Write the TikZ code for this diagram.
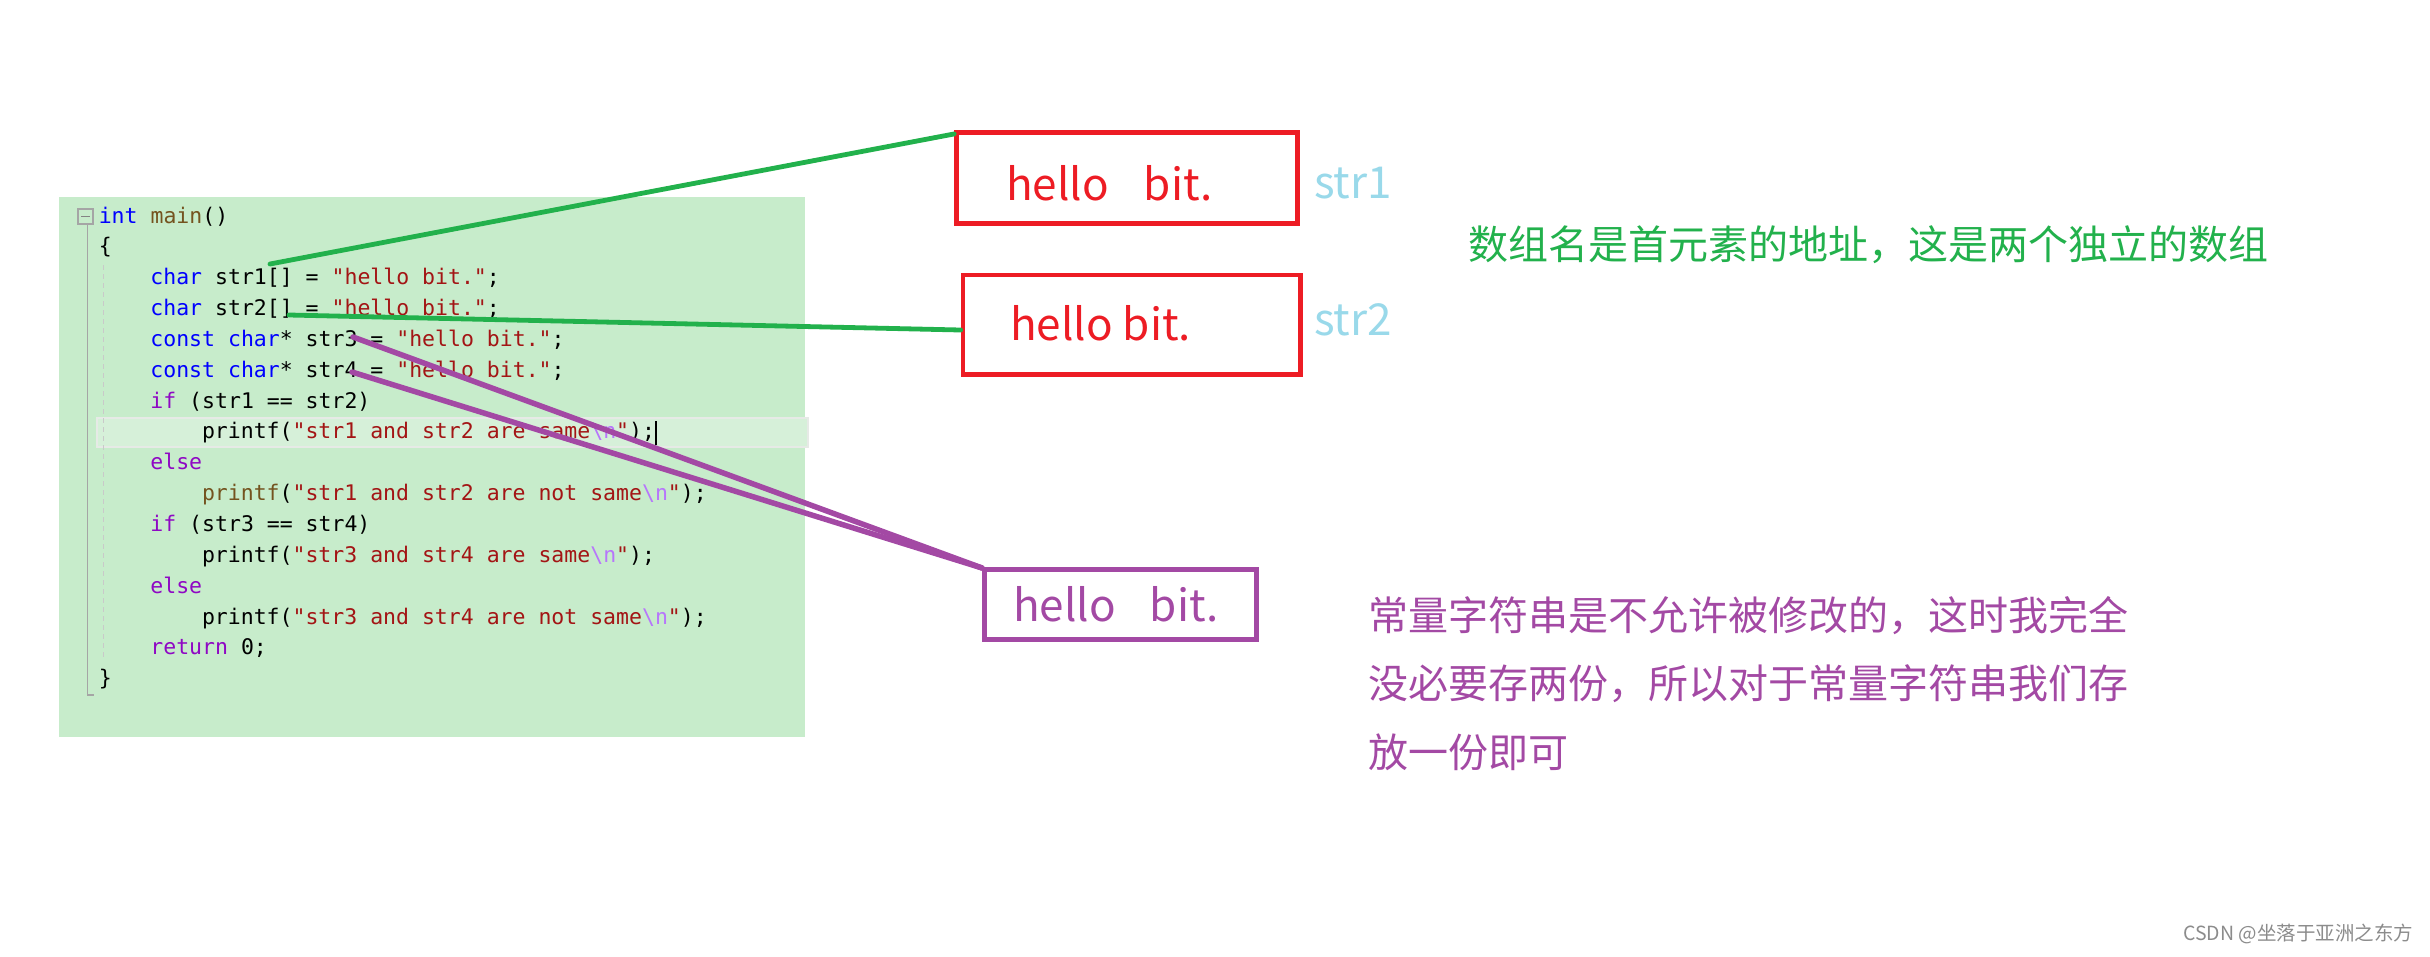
\documentclass[tikz,border=0pt]{standalone}
\usepackage{fontspec}
\setmonofont{DejaVu Sans Mono}
\newfontfamily\cjk{Noto Sans CJK SC}
\definecolor{codebg}{RGB}{199,236,203}
\definecolor{curline}{RGB}{214,240,217}
\definecolor{curborder}{RGB}{230,234,230}
\definecolor{kwblue}{RGB}{0,0,255}
\definecolor{ctpurple}{RGB}{143,8,196}
\definecolor{fnbrown}{RGB}{116,83,31}
\definecolor{strred}{RGB}{163,21,21}
\definecolor{escviolet}{RGB}{183,118,251}
\definecolor{pred}{RGB}{237,28,36}
\definecolor{pgreen}{RGB}{34,177,76}
\definecolor{ppurple}{RGB}{163,73,164}
\definecolor{pblue}{RGB}{153,217,234}
\definecolor{wmgray}{RGB}{140,140,140}
\definecolor{guidegray}{RGB}{165,165,165}
\newcommand{\kw}[1]{\textcolor{kwblue}{#1}}
\newcommand{\ct}[1]{\textcolor{ctpurple}{#1}}
\newcommand{\fn}[1]{\textcolor{fnbrown}{#1}}
\newcommand{\st}[1]{\textcolor{strred}{#1}}
\newcommand{\es}{\textcolor{escviolet}{\textbackslash n}}
\tikzset{
  code/.style={anchor=base west, inner sep=0pt, text=black,
    font=\ttfamily\fontsize{21.5pt}{25pt}\selectfont},
  membox/.style={draw, line width=4.7pt, inner sep=0pt},
  boxtext/.style={anchor=base west, inner sep=0pt,
    font=\cjk\fontsize{44pt}{50pt}\selectfont},
  note/.style={anchor=base west, inner sep=0pt,
    font=\cjk\fontsize{40pt}{48pt}\selectfont},
  gline/.style={draw=pgreen, line width=4.8pt, line cap=round},
  pline/.style={draw=ppurple, line width=5.5pt, line cap=round},
}
\begin{document}
\begin{tikzpicture}[x=1pt,y=-1pt]
\useasboundingbox (0,0) rectangle (2430,956);
\fill[white] (0,0) rectangle (2430,956);
% code editor background
\fill[codebg] (59,197) rectangle (805,737);
\filldraw[fill=curline, draw=curborder, line width=2pt] (97,418) rectangle (808,447);
% fold marker and guides
\draw[guidegray, line width=1.3pt, fill=codebg] (78,209) rectangle (93,224);
\draw[guidegray!80!black, line width=1.5pt] (81,216.5) -- (90,216.5);
\draw[guidegray, line width=1.3pt] (87.5,224) -- (87.5,695) -- (94,695);
\draw[guidegray!60, line width=1.2pt, dash pattern=on 5pt off 4pt] (103.5,265) -- (103.5,657);
% code lines
\node[code] (l0) at (98.6,223) {\kw{int} \fn{main}()};
\node[code] (l1) at (98.6,253.85) {\{};
\node[code] (l2) at (150.2,284.7) {\kw{char} str1[] = \st{"hello bit."};};
\node[code] (l3) at (150.2,315.55) {\kw{char} str2[] = \st{"hello bit."};};
\node[code] (l4) at (150.2,346.4) {\kw{const} \kw{char}* str3 = \st{"hello bit."};};
\node[code] (l5) at (150.2,377.25) {\kw{const} \kw{char}* str4 = \st{"hello bit."};};
\node[code] (l6) at (150.2,408.1) {\ct{if} (str1 == str2)};
\node[code] (l7) at (201.8,438.95) {printf(\st{"str1 and str2 are same\es"});};
\node[code] (l8) at (150.2,469.8) {\ct{else}};
\node[code] (l9) at (201.8,500.65) {\fn{printf}(\st{"str1 and str2 are not same\es"});};
\node[code] (l10) at (150.2,531.5) {\ct{if} (str3 == str4)};
\node[code] (l11) at (201.8,562.35) {printf(\st{"str3 and str4 are same\es"});};
\node[code] (l12) at (150.2,593.2) {\ct{else}};
\node[code] (l13) at (201.8,624.05) {printf(\st{"str3 and str4 are not same\es"});};
\node[code] (l14) at (150.2,654.9) {\ct{return} 0;};
\node[code] (l15) at (98.6,685.75) {\}};
% cursor
\draw[black, line width=1.3pt] (656,421) -- (656,445);
% memory boxes
\node[membox, draw=pred, minimum width=341pt, minimum height=91.4pt] (b1) at (1127,178) {};
\node[membox, draw=pred, minimum width=337.4pt, minimum height=99.4pt] (b2) at (1131.7,324.7) {};
\node[membox, draw=ppurple, minimum width=272.4pt, minimum height=70.4pt] (b3) at (1120.5,604.5) {};
\node[boxtext, text=pred] (t1) at (1006,200) {hello\hspace{35pt}bit.};
\node[boxtext, text=pred] (t2) at (1010,340) {hello bit.};
\node[boxtext, text=ppurple] (t3) at (1013,621) {hello\hspace{34pt}bit.};
\node[boxtext, text=pblue] (n1) at (1314,198) {str1};
\node[boxtext, text=pblue] (n2) at (1314,335) {str2};
% connectors
\coordinate (p1) at (270,264);
\coordinate (p2) at (289,315);
\coordinate (p3) at (353,337);
\coordinate (p4) at (352,372);
\draw[gline] (p1) -- ([yshift=-4pt]b1.north west);
\draw[gline] (p2) -- ([yshift=-5.3pt]b2.west);
\draw[pline] (p3) -- ([yshift=-1pt]b3.north west);
\draw[pline] (p4) -- ([yshift=-1pt]b3.north west);
% notes
\node[note, text=pgreen] (g1) at (1468,259) {数组名是首元素的地址，这是两个独立的数组};
\node[note, text=ppurple] (q1) at (1368,630) {常量字符串是不允许被修改的，这时我完全};
\node[note, text=ppurple] (q2) at (1368,698.5) {没必要存两份，所以对于常量字符串我们存};
\node[note, text=ppurple] (q3) at (1368,767) {放一份即可};
\node[anchor=base west, inner sep=0pt, text=wmgray, font=\cjk\fontsize{19.5pt}{22pt}\selectfont] (wm) at (2183,940) {CSDN @坐落于亚洲之东方};
\end{tikzpicture}
\end{document}
